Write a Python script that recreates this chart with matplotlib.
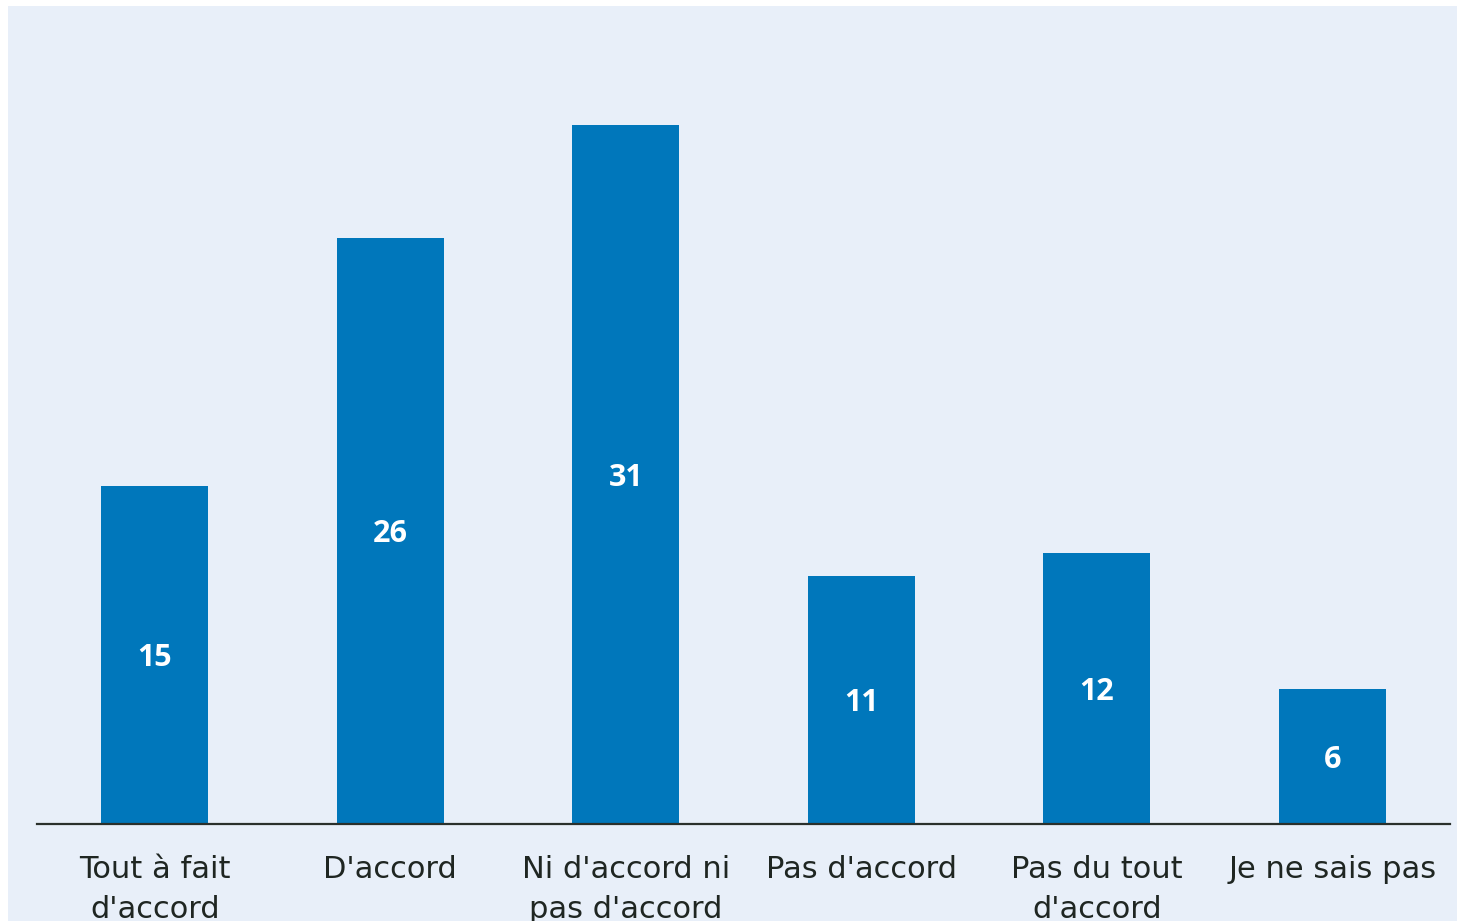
import matplotlib
matplotlib.use("Agg")
import matplotlib.pyplot as plt

categories = ["Tout à fait\nd'accord", "D'accord", "Ni d'accord ni\npas d'accord",
              "Pas d'accord", "Pas du tout\nd'accord", "Je ne sais pas"]
values = [15, 26, 31, 11, 12, 6]

W, H = 1457, 921
fig = plt.figure(figsize=(W / 100, H / 100), dpi=100, facecolor="white")
bg = fig.add_axes([8 / W, 0, 1 - 8 / W, 1 - 6 / H], zorder=-5)
bg.set_facecolor("#E8EFF9")
bg.set_xticks([]); bg.set_yticks([])
for s in bg.spines.values():
    s.set_visible(False)

left, right = 37 / W, 1450 / W
bottom = 1 - 824 / H
top = 1 - 6 / H
ax = fig.add_axes([left, bottom, right - left, top - bottom], zorder=1)
ax.set_facecolor("none")

x = range(len(categories))
bars = ax.bar(x, values, width=0.455, color="#0077BB", zorder=2)
ax.set_xlim(-0.5, len(categories) - 0.5)
ax.set_ylim(0, 818 / 22.55)

for b, v in zip(bars, values):
    ax.annotate(str(v), (b.get_x() + b.get_width() / 2, v / 2), xytext=(0, -2.5),
                textcoords="offset points", ha="center", va="center",
                color="white", fontsize=22, fontweight="bold", family="Open Sans")

ax.set_xticks(list(x))
ax.set_xticklabels(categories, fontsize=22, color="#1F2622", family="DejaVu Sans",
                   linespacing=1.46, va="top")
ax.tick_params(axis="x", length=0, pad=22.5)
ax.set_yticks([])
for s in ["top", "right", "left"]:
    ax.spines[s].set_visible(False)
ax.spines["bottom"].set_color("#2A302C")
ax.spines["bottom"].set_linewidth(1.6)

fig.savefig("out.png", dpi=100, facecolor="white")
